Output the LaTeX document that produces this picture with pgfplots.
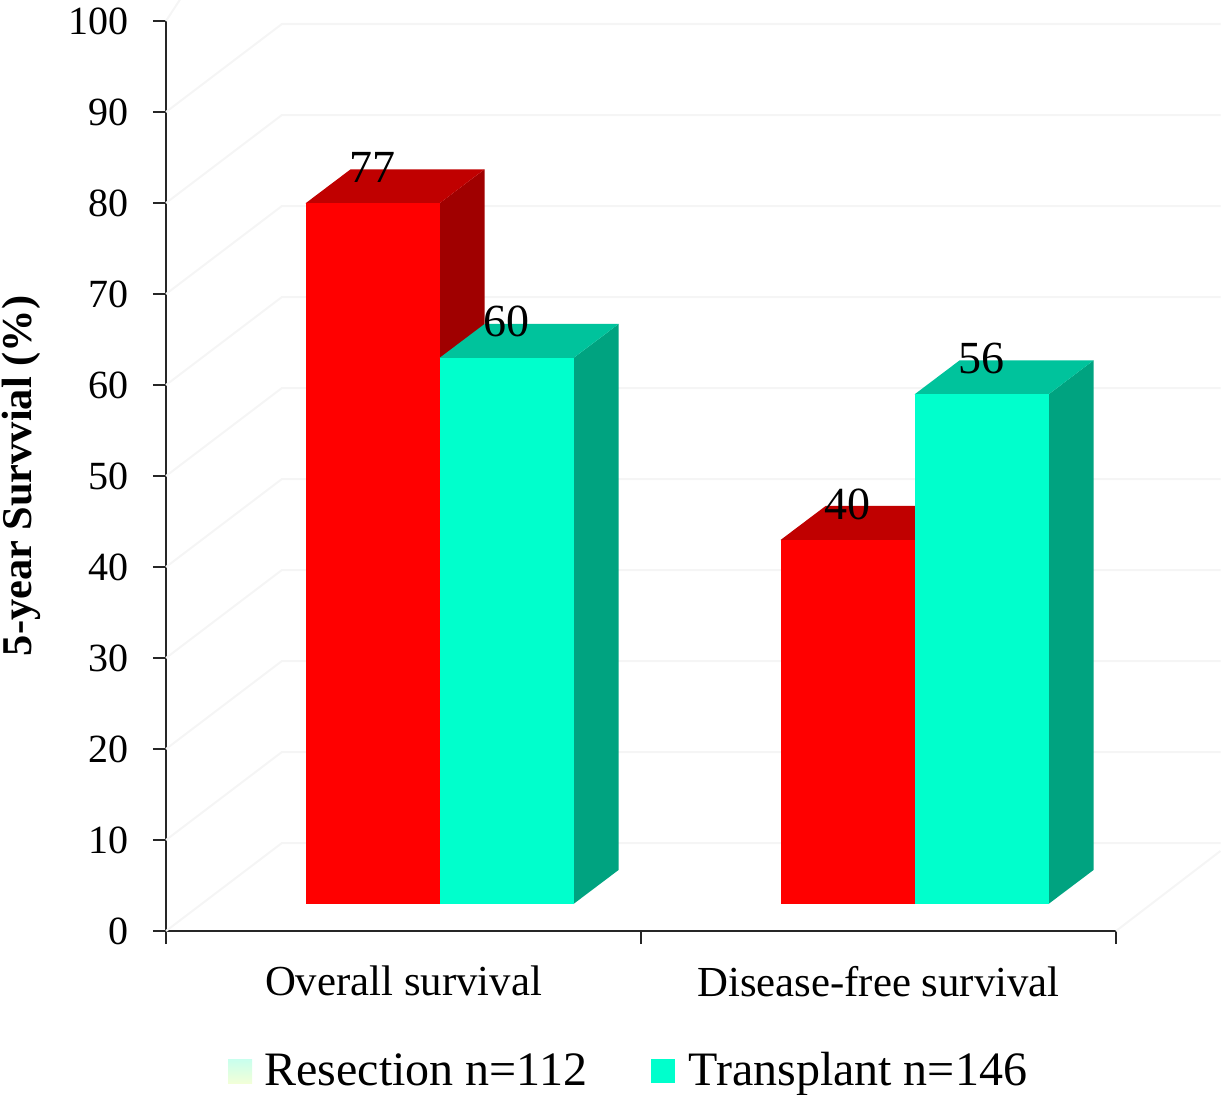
\documentclass[border=0pt]{standalone}
\usepackage{fontspec}
\setmainfont{Liberation Serif}
\usepackage{pgfplots}
\pgfplotsset{compat=1.18}

\definecolor{resectFront}{HTML}{FF0000}
\definecolor{resectTop}{HTML}{C00000}
\definecolor{resectSide}{HTML}{A00000}
\definecolor{transFront}{HTML}{00FFCC}
\definecolor{transTop}{HTML}{00C39C}
\definecolor{transSide}{HTML}{00A380}
\definecolor{wallLine}{HTML}{F5F5F5}
\definecolor{swatchTop}{HTML}{C8FFEE}
\definecolor{swatchMid}{HTML}{E8FFCC}
\definecolor{swatchBottom}{HTML}{F2FFD8}

\pgfplotsset{
  frontbar/.style={ybar, bar width=67pt, draw=none, nodes near coords,
    nodes near coords style={font=\fontsize{23}{23}\selectfont, text=black,
      anchor=base, inner sep=0pt, yshift=10.5pt, xshift=#1}},
  face/.style={draw=none, no markers}
}

\begin{document}
\begin{tikzpicture}
\useasboundingbox (0,0) rectangle (610.5pt,547pt);

% Axes and the faint lines of the floor and walls
\begin{axis}[
  at={(83pt,81.5pt)}, anchor=south west,
  scale only axis, width=475pt, height=455pt,
  xmin=-0.5, xmax=1.5, ymin=0, ymax=100,
  clip=false,
  axis lines*=left, axis line style={-, line width=1.1pt, black!85},
  tick style={line width=1.1pt, black!85},
  tick align=outside, major tick length=6.5pt,
  xtick={-0.5,0.5,1.5},
  x tick label as interval,
  xticklabels={Overall survival, Disease-free survival},
  ytick={0,10,...,100},
  /pgf/number format/assume math mode=true,
  tick label style={font=\fontsize{20}{20}\selectfont},
  xticklabel style={font=\fontsize{21.4}{21.4}\selectfont, yshift=-7.5pt},
  yticklabel style={xshift=-8.5pt},
  ylabel={\textbf{5-year Survvial (\%)}},
  ylabel style={font=\fontsize{21.2}{21.2}\selectfont, yshift=7.5pt},
]
\pgfplotsinvokeforeach{0,10,...,90}{
  \addplot[wallLine, line width=1pt, no markers] coordinates {(-0.5,#1) (-0.256,#1+9.67) (1.72,#1+9.67)};
}
\addplot[wallLine, line width=1pt, no markers] coordinates {(-0.5,100) (-0.44,104.8)};
\addplot[wallLine, line width=1pt, no markers] coordinates {(1.5,0) (1.72,8.8)};
\end{axis}

% Bars on the front plane, set forward of the walls
\begin{axis}[
  at={(101pt,95pt)}, anchor=south west,
  scale only axis, width=475pt, height=455pt,
  xmin=-0.5, xmax=1.5, ymin=0, ymax=100,
  clip=false, hide axis,
  /pgf/number format/assume math mode=true,
]
% Overall survival
\addplot[face, fill=resectSide] coordinates {(0,0) (0.095,3.74) (0.095,80.74) (0,77)} --cycle;
\addplot[face, fill=resectTop] coordinates {(-0.282,77) (-0.187,80.74) (0.095,80.74) (0,77)} --cycle;
\addplot[frontbar=-33.5pt, bar shift=-33.5pt, fill=resectFront] coordinates {(0,77)};
\addplot[face, fill=transSide] coordinates {(0.282,0) (0.377,3.74) (0.377,63.74) (0.282,60)} --cycle;
\addplot[face, fill=transTop] coordinates {(0,60) (0.095,63.74) (0.377,63.74) (0.282,60)} --cycle;
\addplot[frontbar=33.5pt, bar shift=33.5pt, fill=transFront] coordinates {(0,60)};
% Disease-free survival
\addplot[face, fill=resectSide] coordinates {(1,0) (1.095,3.74) (1.095,43.74) (1,40)} --cycle;
\addplot[face, fill=resectTop] coordinates {(0.718,40) (0.813,43.74) (1.095,43.74) (1,40)} --cycle;
\addplot[frontbar=-33.5pt, bar shift=-33.5pt, fill=resectFront] coordinates {(1,40)};
\addplot[face, fill=transSide] coordinates {(1.282,0) (1.377,3.74) (1.377,59.74) (1.282,56)} --cycle;
\addplot[face, fill=transTop] coordinates {(1,56) (1.095,59.74) (1.377,59.74) (1.282,56)} --cycle;
\addplot[frontbar=33.5pt, bar shift=33.5pt, fill=transFront] coordinates {(1,56)};
\end{axis}

% Legend
\shade[top color=swatchTop, middle color=swatchMid, bottom color=swatchBottom]
  (114pt,5.5pt) rectangle (126pt,17.5pt);
\node[anchor=base west, inner sep=0pt, font=\fontsize{24}{24}\selectfont] at (132pt,4.5pt) {Resection n=112};
\fill[transFront] (325.5pt,5.5pt) rectangle (337.5pt,17.5pt);
\node[anchor=base west, inner sep=0pt, font=\fontsize{24}{24}\selectfont] at (344pt,4.5pt) {Transplant n=146};
\end{tikzpicture}
\end{document}
